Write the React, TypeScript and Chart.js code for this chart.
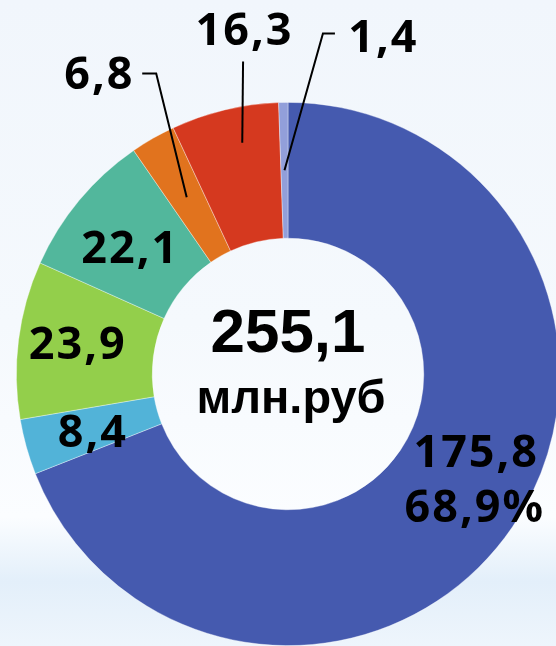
import React, { useEffect, useRef } from 'react';
import { Chart, registerables } from 'chart.js';

Chart.register(...registerables);

// ---- Data ----
const categories = ['Сегмент 1', 'Сегмент 2', 'Сегмент 3', 'Сегмент 4', 'Сегмент 5', 'Сегмент 6', 'Сегмент 7'];
const values = [175.8, 8.4, 23.9, 22.1, 6.8, 16.3, 1.4];
const colors = ['#455AAF', '#52B3D8', '#93CF4B', '#52B79C', '#E1731E', '#D5391F', '#929FDA'];
const totalLabel = '255,1';
const unitLabel = 'млн.руб';
const shareLabel = '68,9%';

const fmt = (v: number) => v.toFixed(1).replace('.', ',');

// label placement (offsets from chart centre, for a 272px outer radius)
const labelPlacement = [
  { dx: 187.5, dy: 93 },
  { dx: -196.5, dy: 73 },
  { dx: -211.5, dy: -15 },
  { dx: -159, dy: -111 },
  { dx: -190, dy: -285, leader: { from: [[-146, -301], [-132, -301]], r: 204, frac: 0.5 } },
  { dx: -44.5, dy: -329, leader: { from: [[-45, -313]], r: 236, frac: 0.6 } },
  { dx: 94.5, dy: -322, leader: { from: [[47, -341], [35, -341]], r: 204, frac: 0.5 } },
];

const labelPlugin = {
  id: 'sliceLabels',
  afterDatasetsDraw(chart: any) {
    const ctx = chart.ctx as CanvasRenderingContext2D;
    const meta = chart.getDatasetMeta(0);
    const a0 = meta.data[0] as any;
    const cx = a0.x, cy = a0.y;
    const k = a0.outerRadius / 272;
    ctx.save();
    // leaders
    ctx.strokeStyle = '#000';
    ctx.lineWidth = 2;
    ctx.lineJoin = 'miter';
    labelPlacement.forEach((p: any, i) => {
      if (!p.leader) return;
      const arc = meta.data[i] as any;
      const ang = arc.startAngle + (arc.endAngle - arc.startAngle) * p.leader.frac;
      const ex = cx + Math.cos(ang) * p.leader.r * k;
      const ey = cy + Math.sin(ang) * p.leader.r * k;
      ctx.beginPath();
      p.leader.from.forEach((pt: number[], j: number) => {
        const x = cx + pt[0] * k, y = cy + pt[1] * k;
        if (j === 0) ctx.moveTo(x, y); else ctx.lineTo(x, y);
      });
      ctx.lineTo(ex, ey);
      ctx.stroke();
    });
    // slice labels
    ctx.fillStyle = '#000';
    ctx.textAlign = 'center';
    ctx.textBaseline = 'alphabetic';
    ctx.font = `bold ${45 * k}px "Noto Sans", sans-serif`;
    (ctx as any).letterSpacing = '2px';
    values.forEach((v, i) => {
      const p = labelPlacement[i];
      ctx.fillText(fmt(v), cx + p.dx * k + 1, cy + p.dy * k);
    });
    ctx.fillText(shareLabel, cx + 186 * k + 1, cy + 148 * k);
    // centre
    (ctx as any).letterSpacing = '0px';
    ctx.font = `bold ${62 * k}px "Liberation Sans", Arial, sans-serif`;
    ctx.fillText(totalLabel, cx, cy - 22 * k);
    ctx.font = `bold ${47 * k}px "Liberation Sans", Arial, sans-serif`;
    ctx.fillText(unitLabel, cx + 3 * k, cy + 39 * k);
    ctx.restore();
  },
};

export default function App() {
  const ref = useRef<HTMLCanvasElement | null>(null);
  useEffect(() => {
    if (!ref.current) return;
    const chart = new Chart(ref.current, {
      type: 'doughnut',
      data: {
        labels: categories,
        datasets: [
          {
            data: values,
            backgroundColor: colors,
            borderColor: 'rgba(255,255,255,0.45)',
            borderWidth: 0.8,
            hoverOffset: 0,
          },
        ],
      },
      options: {
        responsive: false,
        animation: false,
        cutout: '50%',
        rotation: 0,
        layout: { padding: { left: 16, right: 16, top: 102, bottom: 102 } },
        plugins: { legend: { display: false }, tooltip: { enabled: false } },
      },
      plugins: [labelPlugin],
    });
    return () => chart.destroy();
  }, []);
  return (
    <div
      style={{
        position: 'fixed',
        left: 0,
        top: 0,
        width: 556,
        height: 646,
        overflow: 'hidden',
        background:
          'linear-gradient(180deg, #f1f6fc 0%, #f5f9fd 50%, #fbfdff 80%, #e3effa 90%, #eef5fc 100%)',
      }}
    >
      <canvas
        ref={ref}
        width={576}
        height={748}
        style={{ position: 'absolute', left: 0, top: 0, width: 576, height: 748 }}
      />
    </div>
  );
}
